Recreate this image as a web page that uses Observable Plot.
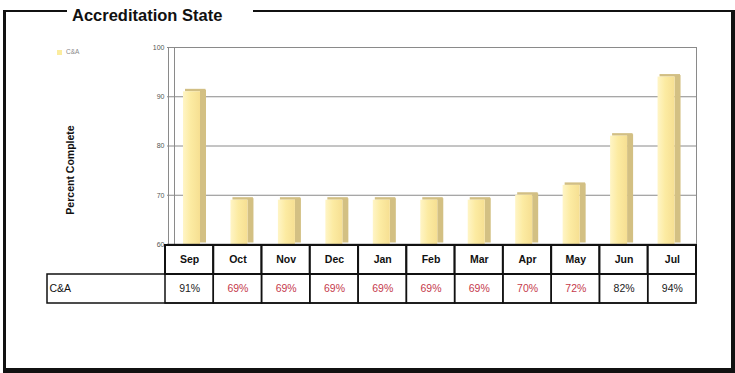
<!DOCTYPE html>
<html>
<head>
<meta charset="utf-8">
<script src="https://cdn.jsdelivr.net/npm/d3@7"></script>
<script src="https://cdn.jsdelivr.net/npm/@observablehq/plot@0.6"></script>
<style>
  body { margin: 0; background: #fff; }
  #wrap { position: relative; width: 735px; height: 373px; background: #fff; overflow: hidden;
          font-family: "Liberation Sans", Arial, sans-serif; }
  #frame { position: absolute; left: 3px; top: 10px; right: 0; bottom: 0; box-sizing: border-box;
           border-left: 3px solid #111; border-top: 2px solid #111; border-right: 4px solid #111; border-bottom: 5px solid #111; }
  #title { position: absolute; left: 67px; top: 5px; width: 181px; padding-left: 5px; background: #fff;
           font-weight: bold; font-size: 16.5px; color: #111; line-height: 20px; }
  #legend { position: absolute; left: 57px; top: 48px; font-size: 6.5px; color: #888; line-height: 8px; }
  #legend .sw { display: inline-block; width: 5px; height: 5px; background: #FBEC9E; margin-right: 4px; vertical-align: -0.5px; }
  #ylabel { position: absolute; left: 70px; top: 170px; transform: translate(-50%, -50%) rotate(-90deg);
            white-space: nowrap; font-weight: bold; font-size: 10.5px; color: #111; }
  .layer { position: absolute; left: 0; top: 0; }
</style>
</head>
<body>
<div id="wrap">
  <div id="frame"></div>
  <div id="title"></div>
  <div id="legend"></div>
  <div id="ylabel"></div>
</div>
<script>
const chartTitle = "Accreditation State";
const yLabel = "Percent Complete";
const seriesName = "C&A";
const months = ["Sep", "Oct", "Nov", "Dec", "Jan", "Feb", "Mar", "Apr", "May", "Jun", "Jul"];
const values = [91, 69, 69, 69, 69, 69, 69, 70, 72, 82, 94];
const yTicks = [60, 70, 80, 90, 100];

const data = months.map((m, i) => ({month: m, value: values[i]}));
const font = "'Liberation Sans', Arial, sans-serif";

document.getElementById("title").textContent = chartTitle;
document.getElementById("ylabel").textContent = yLabel;
const lg = document.getElementById("legend");
const sw = document.createElement("span"); sw.className = "sw";
lg.appendChild(sw); lg.appendChild(document.createTextNode(seriesName));

const wrap = document.getElementById("wrap");

// Bar chart
const chart = Plot.plot({
  width: 735, height: 373,
  marginTop: 47, marginBottom: 129, marginLeft: 174, marginRight: 39,
  style: {background: "transparent", fontFamily: font, fontSize: "7px", color: "#555"},
  x: {domain: months, padding: 0, round: false, axis: null},
  y: {domain: [60, 100], ticks: yTicks, tickSize: 0, tickPadding: 10, label: null},
  marks: [
    Plot.ruleY(yTicks.slice(1), {stroke: "#8a8a8a", strokeWidth: 1, insetLeft: -7}),
    Plot.frame({stroke: "#8a8a8a"}),
    Plot.frame({stroke: "#8a8a8a", insetLeft: -6, insetRight: 522, insetBottom: -3}),
    Plot.barY(data, {x: "month", y1: 60, y2: "value", insetLeft: 26, insetRight: 15.45, dy: -1.5, fill: "#D3C083"}),
    Plot.barY(data, {x: "month", y1: "value", y2: "value", insetTop: -2.5, insetLeft: 11, insetRight: 16, fill: "#D2BF84"}),
    Plot.barY(data, {x: "month", y1: 60, y2: "value", insetLeft: 9, insetRight: 21.45, fill: "url(#barFace)"}),
    Plot.ruleY([60], {stroke: "#444", strokeWidth: 1.5, insetLeft: -7})
  ]
});
const ns = "http://www.w3.org/2000/svg";
const defs = document.createElementNS(ns, "defs");
defs.innerHTML = `<linearGradient id="barFace" x1="0" x2="1" y1="0" y2="0">
  <stop offset="0" stop-color="#FFF5C6"/>
  <stop offset="0.45" stop-color="#FCEBA2"/>
  <stop offset="1" stop-color="#F6DF92"/>
</linearGradient>`;
chart.insertBefore(defs, chart.firstChild);
chart.classList.add("layer");
wrap.appendChild(chart);

// Data table
const table = Plot.plot({
  width: 735, height: 373,
  marginTop: 245, marginBottom: 70, marginLeft: 47, marginRight: 39,
  style: {background: "transparent", fontFamily: font, fontSize: "10px"},
  x: {domain: months, range: [165, 696], padding: 0, round: false, axis: null},
  y: {domain: ["head", seriesName], padding: 0, axis: null},
  marks: [
    Plot.cell([seriesName], {y: d => d, fill: "white", stroke: "#111", strokeWidth: 1.5}),
    Plot.cell(months, {x: d => d, y: () => "head", fill: "white", stroke: "#111", strokeWidth: 2}),
    Plot.cell(data, {x: "month", y: () => seriesName, fill: "none", stroke: "#111", strokeWidth: 1.5}),
    Plot.text(months, {x: d => d, y: () => "head", fontWeight: "bold", fontSize: 10.5, fill: "#111"}),
    Plot.text(data, {x: "month", y: () => seriesName, text: d => d.value + "%", fontSize: 10.5,
                     fill: d => d.value < 80 ? "#C53A4C" : "#222"}),
    Plot.text([seriesName], {y: d => d, frameAnchor: "left", dx: 2, textAnchor: "start", fontSize: 10.5, fill: "#111"})
  ]
});
table.classList.add("layer");
wrap.appendChild(table);
</script>
</body>
</html>
